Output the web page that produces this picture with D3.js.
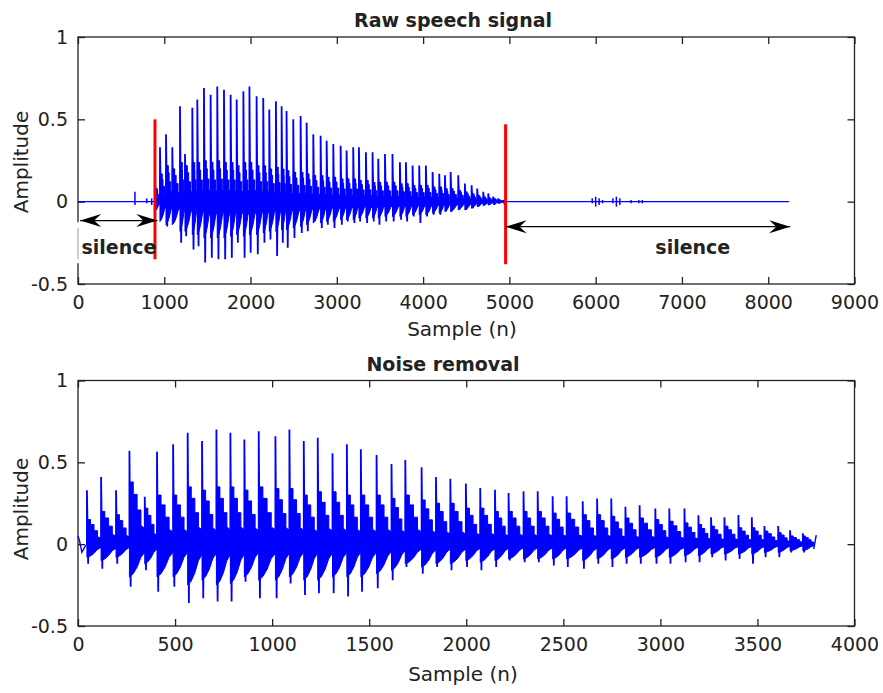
<!DOCTYPE html>
<html>
<head>
<meta charset="utf-8">
<title>Raw speech signal / Noise removal</title>
<script src="https://cdn.jsdelivr.net/npm/d3@7"></script>
<style>
  body { margin: 0; background: #fff; }
  svg text { font-family: "DejaVu Sans", sans-serif; fill: #222; }
  .axis text { font-size: 19px; }
  .title { font-size: 19px; font-weight: bold; }
  .label { font-size: 20px; }
  .note { font-size: 19px; font-weight: bold; }
</style>
</head>
<body>
<div id="chart"></div>
<script>
// ---- top panel: raw signal, one entry per pitch pulse ----
var topN = [895, 950, 1020, 1093, 1182, 1240, 1325, 1383, 1460, 1537,
            1614, 1692, 1769, 1839, 1917, 1987, 2070, 2147, 2217, 2294,
            2360, 2417, 2495, 2580, 2650, 2727, 2812, 2882, 2959, 3044,
            3113, 3190, 3256, 3337, 3414, 3480, 3558, 3645, 3731, 3801,
            3878, 3955, 4032, 4110, 4187, 4253, 4319, 4407, 4484, 4562,
            4627, 4697, 4755, 4812, 4870, 4928];
var topPeak = [0.10, 0.33, 0.41, 0.33, 0.58, 0.29, 0.57, 0.62, 0.69, 0.65,
               0.70, 0.68, 0.65, 0.62, 0.67, 0.70, 0.64, 0.63, 0.56, 0.61,
               0.58, 0.55, 0.50, 0.52, 0.48, 0.41, 0.40, 0.37, 0.35, 0.34,
               0.31, 0.33, 0.33, 0.30, 0.30, 0.26, 0.29, 0.29, 0.24, 0.24,
               0.22, 0.22, 0.22, 0.18, 0.17, 0.16, 0.18, 0.16, 0.11, 0.10,
               0.08, 0.06, 0.05, 0.03, 0.02, 0.01];
var topTrough = [-0.05, -0.10, -0.15, -0.12, -0.25, -0.21, -0.29, -0.27, -0.37, -0.34,
                 -0.35, -0.35, -0.34, -0.25, -0.34, -0.31, -0.32, -0.25, -0.23, -0.33,
                 -0.25, -0.28, -0.22, -0.19, -0.18, -0.12, -0.16, -0.14, -0.16, -0.14,
                 -0.12, -0.13, -0.12, -0.13, -0.12, -0.14, -0.12, -0.12, -0.11, -0.12,
                 -0.09, -0.13, -0.09, -0.08, -0.08, -0.06, -0.06, -0.05, -0.05, -0.04,
                 -0.03, -0.02, -0.02, -0.02, -0.01, -0.01];
var topBodyHi = [0.08, 0.17, 0.22, 0.20, 0.24, 0.22, 0.24, 0.24, 0.25, 0.24,
                 0.25, 0.24, 0.24, 0.22, 0.24, 0.24, 0.22, 0.22, 0.20, 0.21,
                 0.20, 0.19, 0.18, 0.18, 0.17, 0.16, 0.16, 0.15, 0.15, 0.14,
                 0.14, 0.14, 0.13, 0.13, 0.12, 0.12, 0.12, 0.12, 0.11, 0.11,
                 0.10, 0.10, 0.10, 0.09, 0.09, 0.08, 0.08, 0.07, 0.06, 0.05,
                 0.04, 0.03, 0.025, 0.02, 0.012, 0.006];
var topBodyLo = [-0.05, -0.12, -0.14, -0.14, -0.18, -0.18, -0.20, -0.20, -0.22, -0.22,
                 -0.22, -0.22, -0.21, -0.20, -0.21, -0.20, -0.20, -0.19, -0.18, -0.18,
                 -0.17, -0.17, -0.16, -0.15, -0.14, -0.13, -0.13, -0.12, -0.12, -0.11,
                 -0.11, -0.11, -0.10, -0.10, -0.10, -0.10, -0.09, -0.09, -0.09, -0.09,
                 -0.08, -0.08, -0.08, -0.07, -0.07, -0.06, -0.06, -0.05, -0.05, -0.04,
                 -0.03, -0.025, -0.02, -0.015, -0.01, -0.005];
var topVoicedEnd = 4960;
var topSilence = [[0, 895], [4960, 8241]];           // flat stretches at 0
var topBlipN  = [660, 796, 854, 5960, 6000, 6040, 6080, 6200, 6240, 6280, 6410, 6500, 6540];
var topBlipHi = [0.06, 0.02, 0.02, 0.02, 0.03, 0.02, 0.01, 0.02, 0.03, 0.02, 0.01, 0.01, 0.01];
var topBlipLo = [-0.02, -0.01, -0.02, -0.01, -0.03, -0.02, -0.01, -0.01, -0.03, -0.02, -0.01, -0.01, -0.01];

// boundaries and annotations on the top panel
var markerN = [892, 4956];
var markerHi = [0.50, 0.47];
var markerLo = [-0.35, -0.38];
var arrowFrom = [25, 4956];
var arrowTo = [920, 8255];
var arrowAt = [-0.115, -0.152];
var noteN = [475, 7126];
var noteA = [-0.316, -0.316];
var noteText = ["silence", "silence"];

// ---- bottom panel: after noise removal ----
var botN = [46, 119, 196, 265, 344, 407, 490, 565, 639, 713,
            785, 857, 931, 1017, 1089, 1163, 1235, 1311, 1385, 1457,
            1538, 1615, 1686, 1770, 1844, 1918, 1998, 2072, 2148, 2218,
            2295, 2368, 2445, 2517, 2600, 2674, 2747, 2820, 2893, 2974,
            3046, 3124, 3196, 3261, 3330, 3402, 3471, 3536, 3607, 3668,
            3734];
var botPeak = [0.33, 0.41, 0.33, 0.57, 0.29, 0.565, 0.61, 0.68, 0.63, 0.70,
               0.68, 0.64, 0.69, 0.66, 0.70, 0.63, 0.65, 0.555, 0.61, 0.58,
               0.545, 0.49, 0.515, 0.47, 0.41, 0.40, 0.37, 0.343, 0.333, 0.313,
               0.323, 0.323, 0.293, 0.293, 0.262, 0.279, 0.279, 0.228, 0.238, 0.218,
               0.218, 0.218, 0.176, 0.165, 0.165, 0.178, 0.165, 0.111, 0.111, 0.085,
               0.067];
var botTrough = [-0.12, -0.15, -0.12, -0.26, -0.16, -0.29, -0.26, -0.36, -0.33, -0.35,
                 -0.35, -0.23, -0.33, -0.33, -0.24, -0.31, -0.30, -0.30, -0.32, -0.29,
                 -0.27, -0.22, -0.14, -0.18, -0.14, -0.16, -0.14, -0.16, -0.14, -0.10,
                 -0.11, -0.11, -0.13, -0.14, -0.15, -0.12, -0.14, -0.12, -0.12, -0.12,
                 -0.12, -0.11, -0.11, -0.08, -0.10, -0.09, -0.12, -0.08, -0.08, -0.05,
                 -0.05];
var botBodyHi = [0.15, 0.20, 0.18, 0.38, 0.22, 0.30, 0.30, 0.35, 0.33, 0.35,
                 0.35, 0.33, 0.35, 0.34, 0.34, 0.30, 0.32, 0.32, 0.30, 0.30,
                 0.30, 0.28, 0.30, 0.27, 0.25, 0.25, 0.22, 0.22, 0.20, 0.20,
                 0.20, 0.20, 0.19, 0.19, 0.18, 0.18, 0.17, 0.16, 0.16, 0.15,
                 0.14, 0.13, 0.12, 0.11, 0.11, 0.10, 0.10, 0.08, 0.07, 0.05,
                 0.05];
var botBodyLo = [-0.08, -0.10, -0.08, -0.20, -0.12, -0.20, -0.20, -0.25, -0.22, -0.25,
                 -0.24, -0.20, -0.22, -0.22, -0.20, -0.22, -0.22, -0.20, -0.20, -0.20,
                 -0.18, -0.16, -0.12, -0.14, -0.12, -0.12, -0.10, -0.11, -0.10, -0.09,
                 -0.09, -0.09, -0.09, -0.09, -0.10, -0.09, -0.09, -0.08, -0.08, -0.08,
                 -0.08, -0.07, -0.07, -0.06, -0.06, -0.06, -0.06, -0.05, -0.05, -0.04,
                 -0.04];
var botVoicedEnd = 3790;
var botLeadN = [0, 8, 20, 34, 46];
var botLeadA = [0.05, 0.02, -0.05, -0.02, 0];
var botTailN = [3790, 3803];
var botTailA = [-0.03, 0.055];

var topXTicks = [0, 1000, 2000, 3000, 4000, 5000, 6000, 7000, 8000, 9000];
var botXTicks = [0, 500, 1000, 1500, 2000, 2500, 3000, 3500, 4000];
var yTicks = [-0.5, 0, 0.5, 1];

var W = 883, H = 693;
var blue = "#0000ff";

var svg = d3.select("#chart").append("svg")
    .attr("width", W)
    .attr("height", H);

var topX = d3.scaleLinear().domain([0, 9000]).range([78, 854.5]);
var topY = d3.scaleLinear().domain([-0.5, 1]).range([284, 37]);
var botX = d3.scaleLinear().domain([0, 4000]).range([78, 854.5]);
var botY = d3.scaleLinear().domain([-0.5, 1]).range([626, 380.5]);

function drawAxes(x, y, xTicks) {
  var g = svg.append("g").attr("class", "axis").style("color", "#222");
  var l = x.range()[0], r = x.range()[1], t = y.range()[1], b = y.range()[0];
  g.append("rect")
      .attr("x", l).attr("y", t)
      .attr("width", r - l).attr("height", b - t)
      .attr("fill", "none").attr("stroke", "#222").attr("stroke-width", 1.3);
  var fmtY = function(d) { return String(d); };
  g.append("g").attr("transform", "translate(0," + b + ")")
      .call(d3.axisBottom(x).tickValues(xTicks).tickSize(-7).tickPadding(12).tickFormat(d3.format("d")));
  g.append("g").attr("transform", "translate(0," + t + ")")
      .call(d3.axisTop(x).tickValues(xTicks).tickSize(-7).tickFormat(""));
  g.append("g").attr("transform", "translate(" + l + ",0)")
      .call(d3.axisLeft(y).tickValues(yTicks).tickSize(-7).tickPadding(10).tickFormat(fmtY));
  g.append("g").attr("transform", "translate(" + r + ",0)")
      .call(d3.axisRight(y).tickValues(yTicks).tickSize(-7).tickFormat(""));
  g.selectAll(".domain").remove();
  g.selectAll(".tick line").attr("stroke-width", 1.3);
}

function drawSignal(x, y, N, pk, tr, hi, lo, endN) {
  var g = svg.append("g");
  var line = d3.line().x(function(d) { return x(d[0]); }).y(function(d) { return y(d[1]); });
  // body of each pitch period: a stepped decay after the pulse
  N.forEach(function(n0, i) {
    var n1 = i < N.length - 1 ? N[i + 1] : endN, T = n1 - n0;
    var h = hi[i], l = lo[i];
    var pts = [[n0, h], [n0 + 0.25 * T, h], [n0 + 0.25 * T, 0.8 * h],
               [n0 + 0.5 * T, 0.8 * h], [n0 + 0.5 * T, 0.55 * h],
               [n0 + 0.75 * T, 0.55 * h], [n0 + 0.75 * T, 0.3 * h],
               [n1, 0.25 * h], [n1, 0.25 * l], [n0 + 0.75 * T, 0.4 * l],
               [n0 + 0.5 * T, 0.7 * l], [n0 + 0.25 * T, 0.9 * l], [n0, l]];
    g.append("path").attr("d", line(pts) + "Z")
        .attr("fill", blue).attr("stroke", blue).attr("stroke-width", 1)
        .attr("stroke-linejoin", "round");
  });
  // main spike of each period
  g.selectAll("path.spike").data(N).enter().append("path")
      .attr("class", "spike")
      .attr("d", function(n0, i) {
        var x0 = x(n0);
        return "M" + x0 + "," + y(0) + "L" + x0 + "," + y(pk[i]) +
               "L" + (x0 + 1.2) + "," + y(tr[i]) + "L" + (x0 + 2) + "," + y(hi[i]);
      })
      .attr("fill", "none").attr("stroke", blue).attr("stroke-width", 1.8);
  return g;
}

// ---------- top panel ----------
drawAxes(topX, topY, topXTicks);

var topLine = d3.line().x(function(d) { return topX(d[0]); }).y(function(d) { return topY(d[1]); });
topSilence.forEach(function(s) {
  svg.append("path").attr("d", topLine([[s[0], 0], [s[1], 0]]))
      .attr("stroke", blue).attr("stroke-width", 1.2).attr("fill", "none");
});
svg.selectAll("line.blip").data(topBlipN).enter().append("line")
    .attr("class", "blip")
    .attr("x1", function(d) { return topX(d); }).attr("x2", function(d) { return topX(d); })
    .attr("y1", function(d, i) { return topY(topBlipHi[i]); })
    .attr("y2", function(d, i) { return topY(topBlipLo[i]); })
    .attr("stroke", blue).attr("stroke-width", 1.5);
drawSignal(topX, topY, topN, topPeak, topTrough, topBodyHi, topBodyLo, topVoicedEnd);

// label box for the first "silence" breaks the left axis line
svg.append("rect").attr("x", 75).attr("y", topY(-0.125)).attr("width", 79).attr("height", 41)
    .attr("fill", "#fff");
svg.append("line").attr("x1", 78).attr("x2", 78).attr("y1", topY(-0.16)).attr("y2", topY(-0.35))
    .attr("stroke", "#999").attr("stroke-width", 1);

svg.selectAll("line.marker").data(markerN).enter().append("line")
    .attr("class", "marker")
    .attr("x1", function(d) { return topX(d); }).attr("x2", function(d) { return topX(d); })
    .attr("y1", function(d, i) { return topY(markerHi[i]); })
    .attr("y2", function(d, i) { return topY(markerLo[i]); })
    .attr("stroke", "#ff0000").attr("stroke-width", 3);

function arrowHead(tipX, tipY, dir) {
  // dir = 1 points right, -1 points left
  var L = 21, Hw = 6.5, notch = 14;
  return "M" + tipX + "," + tipY +
         "L" + (tipX - dir * L) + "," + (tipY - Hw) +
         "L" + (tipX - dir * notch) + "," + tipY +
         "L" + (tipX - dir * L) + "," + (tipY + Hw) + "Z";
}
arrowFrom.forEach(function(a, i) {
  var x1 = topX(a), x2 = topX(arrowTo[i]), yy = topY(arrowAt[i]);
  svg.append("line").attr("x1", x1).attr("x2", x2).attr("y1", yy).attr("y2", yy)
      .attr("stroke", "#000").attr("stroke-width", 1.3);
  svg.append("path").attr("d", arrowHead(x1, yy, -1)).attr("fill", "#000");
  svg.append("path").attr("d", arrowHead(x2, yy, 1)).attr("fill", "#000");
});
svg.selectAll("text.note").data(noteText).enter().append("text")
    .attr("class", "note")
    .attr("x", function(d, i) { return topX(noteN[i]); })
    .attr("y", function(d, i) { return topY(noteA[i]); })
    .attr("text-anchor", "middle")
    .text(function(d) { return d; });

svg.append("text").attr("class", "title").attr("x", 453).attr("y", 27)
    .attr("text-anchor", "middle").text("Raw speech signal");
svg.append("text").attr("class", "label").attr("x", 462).attr("y", 336)
    .attr("text-anchor", "middle").text("Sample (n)");
svg.append("text").attr("class", "label").attr("transform", "translate(28,162) rotate(-90)")
    .attr("text-anchor", "middle").text("Amplitude");

// ---------- bottom panel ----------
drawAxes(botX, botY, botXTicks);
var botLine = d3.line().x(function(d) { return botX(d[0]); }).y(function(d) { return botY(d[1]); });
svg.append("path").attr("d", botLine(botLeadN.map(function(n, i) { return [n, botLeadA[i]]; })))
    .attr("stroke", blue).attr("stroke-width", 1.4).attr("fill", "none");
drawSignal(botX, botY, botN, botPeak, botTrough, botBodyHi, botBodyLo, botVoicedEnd);
svg.append("path").attr("d", botLine(botTailN.map(function(n, i) { return [n, botTailA[i]]; })))
    .attr("stroke", blue).attr("stroke-width", 1.4).attr("fill", "none");

svg.append("text").attr("class", "title").attr("x", 443).attr("y", 371)
    .attr("text-anchor", "middle").text("Noise removal");
svg.append("text").attr("class", "label").attr("x", 463).attr("y", 681)
    .attr("text-anchor", "middle").text("Sample (n)");
svg.append("text").attr("class", "label").attr("transform", "translate(28,509) rotate(-90)")
    .attr("text-anchor", "middle").text("Amplitude");
</script>
</body>
</html>
